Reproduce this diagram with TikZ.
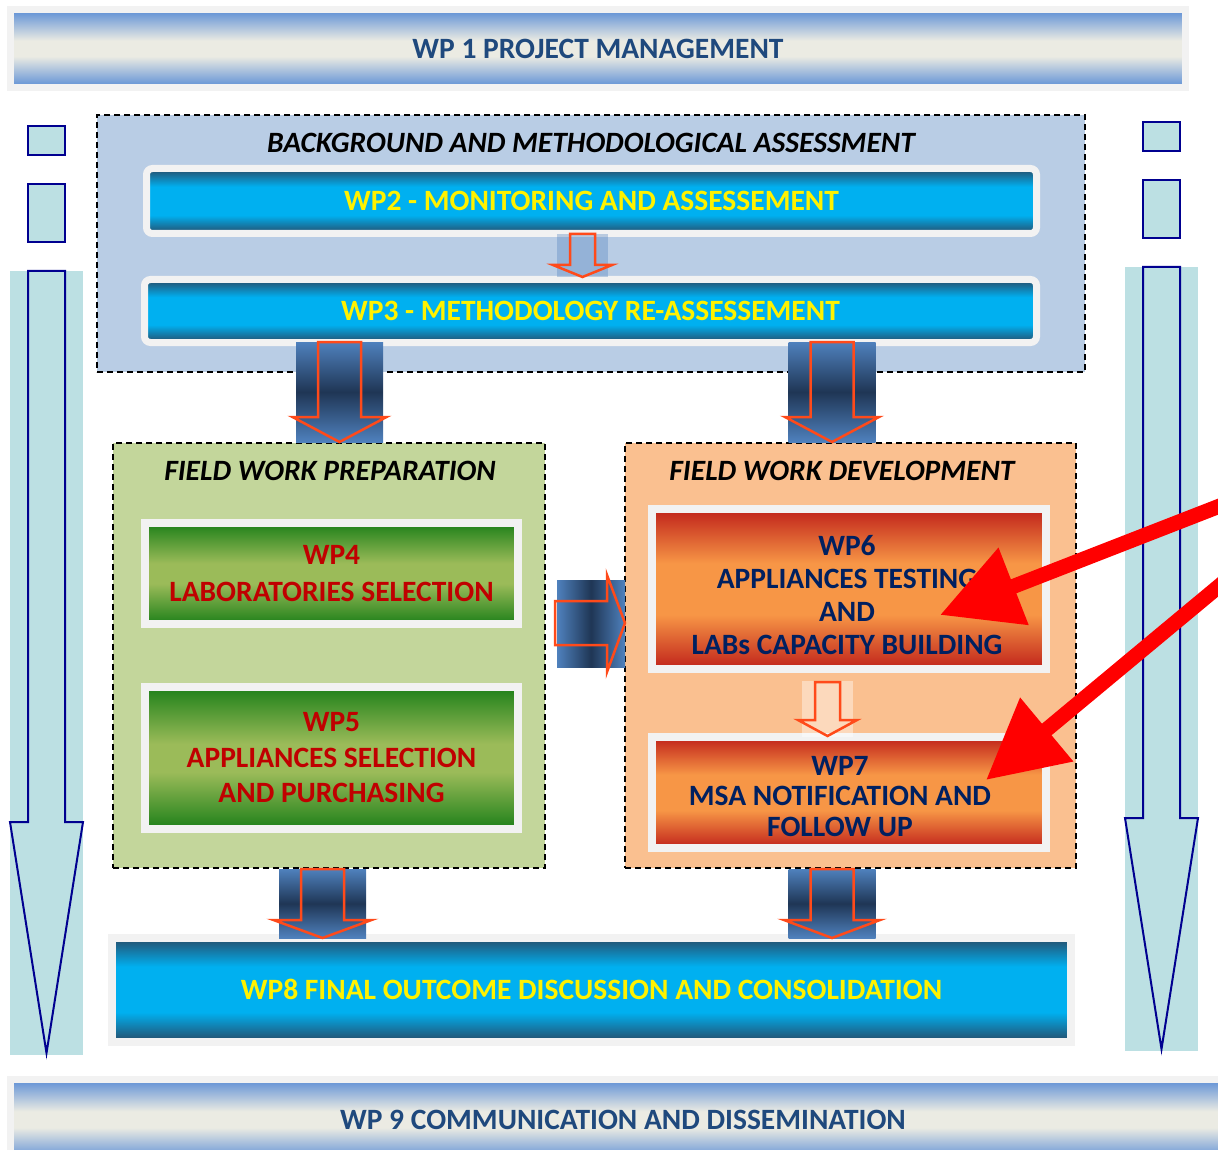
\documentclass[tikz,border=0pt]{standalone}
\usepackage{fontspec}
\setmainfont{Carlito}
\usetikzlibrary{arrows.meta}

\definecolor{framegrey}{HTML}{F2F2F2}
\definecolor{wpblue}{HTML}{1F497D}
\definecolor{wpnavy}{HTML}{002060}
\definecolor{wpred}{HTML}{C00000}
\definecolor{bgblue}{HTML}{B9CDE5}
\definecolor{prepgreen}{HTML}{C3D69B}
\definecolor{devpeach}{HTML}{FAC090}
\definecolor{colcyan}{HTML}{BCE0E3}
\definecolor{colnavy}{HTML}{000090}
\definecolor{arrblue}{HTML}{4F81BD}
\definecolor{arrdark}{HTML}{1F3655}
\definecolor{arrorange}{HTML}{FF4A1A}
\definecolor{greyedge}{HTML}{5B8DD5}
\definecolor{greymid}{HTML}{EBEBE3}
\definecolor{cyandark}{HTML}{274B68}
\definecolor{cyanmid}{HTML}{00B0F0}
\definecolor{greendark}{HTML}{1E8019}
\definecolor{greenmid}{HTML}{9BBB59}
\definecolor{orangedark}{HTML}{C0221A}
\definecolor{orangemid}{HTML}{F79646}

\pgfdeclareverticalshading{greyshade}{100bp}{color(0bp)=(greyedge); color(25bp)=(greyedge); color(45bp)=(greymid); color(55bp)=(greymid); color(75bp)=(greyedge); color(100bp)=(greyedge)}
\pgfdeclareverticalshading{cyanshade}{100bp}{color(0bp)=(cyandark); color(25bp)=(cyandark); color(39bp)=(cyanmid); color(61bp)=(cyanmid); color(75bp)=(cyandark); color(100bp)=(cyandark)}
\pgfdeclareverticalshading{greenshade}{100bp}{color(0bp)=(greendark); color(25bp)=(greendark); color(45bp)=(greenmid); color(55bp)=(greenmid); color(75bp)=(greendark); color(100bp)=(greendark)}
\pgfdeclareverticalshading{orangeshade}{100bp}{color(0bp)=(orangedark); color(25bp)=(orangedark); color(42bp)=(orangemid); color(58bp)=(orangemid); color(75bp)=(orangedark); color(100bp)=(orangedark)}
\pgfdeclareverticalshading{blockshade}{100bp}{color(0bp)=(arrblue); color(25bp)=(arrblue); color(50bp)=(arrdark); color(75bp)=(arrblue); color(100bp)=(arrblue)}
\pgfdeclarehorizontalshading{blockshadeh}{100bp}{color(0bp)=(arrblue); color(25bp)=(arrblue); color(50bp)=(arrdark); color(75bp)=(arrblue); color(100bp)=(arrblue)}

\tikzset{
  wptext/.style={font=\fontsize{29.5}{#1}\selectfont\bfseries, align=center, inner sep=0pt},
  wptext/.default=35,
  greybar/.style={shading=greyshade, draw=framegrey, line width=7pt, text=wpblue, wptext},
  cyanbar/.style={shading=cyanshade, draw=framegrey, line width=7pt, rounded corners=6pt, text=yellow, wptext},
  greenbar/.style={shading=greenshade, draw=framegrey, line width=8pt, text=wpred},
  orangebar/.style={shading=orangeshade, draw=framegrey, line width=8pt, text=wpnavy},
  dashbox/.style={draw=black, line width=1.6pt, dash pattern=on 6pt off 4pt, inner sep=0pt},
  titletext/.style={font=\fontsize{29.5}{35}\selectfont\bfseries\itshape, inner sep=0pt},
  colarrow/.style={draw=colnavy, line width=2pt, fill=colcyan},
  blockline/.style={draw=arrorange, line width=2.5pt, line join=miter},
  redarrow/.style={draw=red, line width=15pt, -{Triangle[length=79pt,width=79pt]}}
}

\begin{document}
\begin{tikzpicture}[x=1pt, y=-1pt]
\useasboundingbox (0,0) rectangle (1218,1150);

% side columns
\foreach \x/\dy in {28/0, 1143/-4} {
  \fill[colcyan] (\x-18,271+\dy) rectangle (\x+55,1055+\dy);
  \draw[colarrow] (\x,271+\dy) -- (\x+37,271+\dy) -- (\x+37,822+\dy) -- (\x+55,822+\dy)
    -- (\x+18.5,1053+\dy) -- (\x-18,822+\dy) -- (\x,822+\dy) -- cycle;
  \draw[colarrow] (\x,126+\dy) rectangle (\x+37,155+\dy);
  \draw[colarrow] (\x,184+\dy) rectangle (\x+37,242+\dy);
}

% top and bottom bars
\node[greybar, minimum width=1175, minimum height=78] (wp1) at (598,48.5) {WP 1 PROJECT MANAGEMENT};
\node[greybar, minimum width=1225, minimum height=81] (wp9) at (623,1119.5) {WP 9 COMMUNICATION AND DISSEMINATION};

% group boxes
\node[dashbox, fill=bgblue, minimum width=988, minimum height=257] (bgbox) at (591,243.5) {};
\node[titletext] (bgtitle) at (591,143) {BACKGROUND AND METHODOLOGICAL ASSESSMENT};
\node[dashbox, fill=prepgreen, minimum width=432, minimum height=425] (prepbox) at (329,655.5) {};
\node[titletext] (preptitle) at (330,471) {FIELD WORK PREPARATION};
\node[dashbox, fill=devpeach, minimum width=451, minimum height=425] (devbox) at (850.5,655.5) {};
\node[titletext] (devtitle) at (842,471) {FIELD WORK DEVELOPMENT};

% work packages
\node[cyanbar, minimum width=890, minimum height=65] (wp2) at (591.5,201) {WP2 - MONITORING AND ASSESSEMENT};
\node[cyanbar, minimum width=892, minimum height=63] (wp3) at (590.5,311) {WP3 - METHODOLOGY RE-ASSESSEMENT};
\node[greenbar, wptext=37, minimum width=373, minimum height=101] (wp4) at (331.5,573.5) {WP4\\LABORATORIES SELECTION};
\node[greenbar, wptext=35.5, minimum width=373, minimum height=142] (wp5) at (331.5,758) {WP5\\APPLIANCES SELECTION\\AND PURCHASING};
\node[orangebar, minimum width=394, minimum height=160,
  label={[wptext=33, text=wpnavy, xshift=-2pt, yshift=-6pt]center:{WP6\\APPLIANCES TESTING\\AND\\LABs CAPACITY BUILDING}}] (wp6) at (849,589) {};
\node[orangebar, minimum width=394, minimum height=111,
  label={[wptext=30.5, text=wpnavy, xshift=-9pt, yshift=-4pt]center:{WP7\\MSA NOTIFICATION AND\\FOLLOW UP}}] (wp7) at (849,792.5) {};
\node[cyanbar, line width=8pt, rounded corners=0pt, minimum width=959, minimum height=104] (wp8) at (591.5,989.5) {WP8 FINAL OUTCOME DISCUSSION AND CONSOLIDATION};

% block arrows
\foreach \cx/\ya/\yh/\yb/\hw in {339.5/342/417/442/47, 832/342/417/442/47, 322.5/869/920/938/49, 832/869/920/938/48} {
  \shade[shading=blockshade] (\cx-43.5,\ya) rectangle (\cx+43.5,\yb);
  \draw[blockline] (\cx-21.5,\ya) -- (\cx+21.5,\ya) -- (\cx+21.5,\yh) -- (\cx+\hw,\yh)
    -- (\cx,\yb) -- (\cx-\hw,\yh) -- (\cx-21.5,\yh) -- cycle;
}
\fill[arrblue, fill opacity=0.35] (557,234) rectangle (608,277);
\draw[blockline] (570,234) -- (595,234) -- (595,265) -- (612,265) -- (582.5,277) -- (553,265) -- (570,265) -- cycle;
\fill[white, fill opacity=0.4] (802,681) rectangle (853,737);
\draw[blockline] (815,682) -- (840,682) -- (840,720) -- (857,720) -- (827.5,736) -- (798,720) -- (815,720) -- cycle;
\shade[shading=blockshadeh] (557,580) rectangle (625,667);
\draw[blockline] (555,601) -- (607,601) -- (607,575) -- (625,623) -- (607,672) -- (607,645) -- (555,645) -- cycle;

% red pointers
\coordinate (in6) at (940,615);
\coordinate (from6) at (1230,502);
\coordinate (in7) at (986,780);
\coordinate (from7) at (1230,577);
\draw[redarrow] (from6) -- (in6);
\draw[redarrow] (from7) -- (in7);
\end{tikzpicture}
\end{document}
